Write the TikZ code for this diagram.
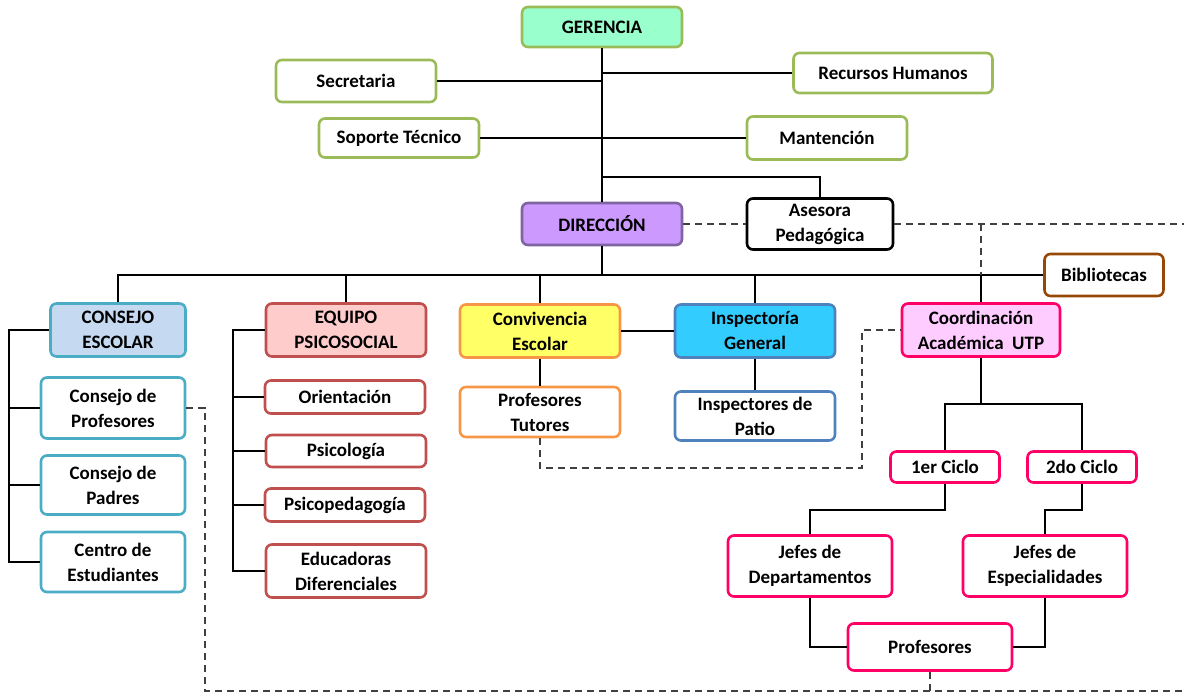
\documentclass[tikz,border=0pt]{standalone}
\usepackage{fontspec}
\setmainfont{Carlito}
\usetikzlibrary{positioning, calc}
\definecolor{gerfill}{RGB}{153,255,204}
\definecolor{olive}{RGB}{155,187,89}
\definecolor{dirfill}{RGB}{204,153,255}
\definecolor{dirline}{RGB}{128,100,162}
\definecolor{bibline}{RGB}{151,71,6}
\definecolor{cefill}{RGB}{197,217,241}
\definecolor{celine}{RGB}{75,172,198}
\definecolor{epfill}{RGB}{255,204,204}
\definecolor{epline}{RGB}{192,80,77}
\definecolor{convfill}{RGB}{255,255,102}
\definecolor{convline}{RGB}{247,150,70}
\definecolor{inspfill}{RGB}{51,204,255}
\definecolor{inspline}{RGB}{79,129,189}
\definecolor{utpfill}{RGB}{255,204,255}
\definecolor{utpline}{RGB}{255,0,102}

\begin{document}
\begin{tikzpicture}[
  x = 1pt, y = -1pt,
  box/.style = {draw, rounded corners=6pt, line width=2.6pt, align=center, inner sep=0pt,
                font=\bfseries\fontsize{19}{25}\selectfont},
  link/.style = {line width=1.5pt},
  dotlink/.style = {line width=1.5pt, draw=black!75, dash pattern=on 7pt off 5pt}
]
  \useasboundingbox (0,0) rectangle (1184,693);

  % top level
  \node[box, draw=olive, fill=gerfill, minimum width=160, minimum height=40] (ger) at (602,27) {GERENCIA};
  \node[box, draw=olive, minimum width=160, minimum height=42] (sec) at (356,81) {Secretaria};
  \node[box, draw=olive, minimum width=199, minimum height=40] (rrhh) at (893,73) {Recursos Humanos};
  \node[box, draw=olive, minimum width=160, minimum height=39] (sop) at (399,138) {Soporte Técnico};
  \node[box, draw=olive, minimum width=160, minimum height=43] (mant) at (827,138) {Mantención};
  \node[box, draw=black, minimum width=146, minimum height=51] (ase) at (820,224) {Asesora\\Pedagógica};
  \node[box, draw=dirline, fill=dirfill, minimum width=160, minimum height=42] (dir) at (602,224) {DIRECCIÓN};
  \node[box, draw=bibline, minimum width=119, minimum height=42] (bib) at (1104,275) {Bibliotecas};

  % consejo escolar
  \node[box, draw=celine, fill=cefill, minimum width=135, minimum height=53] (ce) at (118,330) {CONSEJO\\ESCOLAR};
  \node[box, draw=celine, minimum width=144, minimum height=61] (cprof) at (113,408) {Consejo de\\Profesores};
  \node[box, draw=celine, minimum width=144, minimum height=59] (cpad) at (113,485) {Consejo de\\Padres};
  \node[box, draw=celine, minimum width=144, minimum height=60] (cest) at (113,562) {Centro de\\Estudiantes};

  % equipo psicosocial
  \node[box, draw=epline, fill=epfill, minimum width=160, minimum height=53] (ep) at (346,330) {EQUIPO\\PSICOSOCIAL};
  \node[box, draw=epline, minimum width=160, minimum height=33] (ori) at (345,397) {Orientación};
  \node[box, draw=epline, minimum width=160, minimum height=32] (psi) at (346,451) {Psicología};
  \node[box, draw=epline, minimum width=160, minimum height=33] (psp) at (345,505) {Psicopedagogía};
  \node[box, draw=epline, minimum width=160, minimum height=53] (edu) at (346,571) {Educadoras\\Diferenciales};

  % convivencia e inspectoria
  \node[box, draw=convline, fill=convfill, minimum width=160, minimum height=53] (conv) at (540,331) {Convivencia\\Escolar};
  \node[box, draw=convline, minimum width=160, minimum height=50] (tut) at (540,412) {Profesores\\Tutores};
  \node[box, draw=inspline, fill=inspfill, minimum width=160, minimum height=53] (insp) at (755,331) {Inspectoría\\General};
  \node[box, draw=inspline, minimum width=160, minimum height=49] (pat) at (755,416) {Inspectores de\\Patio};

  % coordinacion academica
  \node[box, draw=utpline, fill=utpfill, minimum width=158, minimum height=53] (utp) at (981,330) {Coordinación\\Académica\ \ UTP};
  \node[box, draw=utpline, minimum width=109, minimum height=31] (cic1) at (945,467) {1er Ciclo};
  \node[box, draw=utpline, minimum width=109, minimum height=31] (cic2) at (1082,467) {2do Ciclo};
  \node[box, draw=utpline, minimum width=164, minimum height=61] (jdep) at (810,566) {Jefes de\\Departamentos};
  \node[box, draw=utpline, minimum width=164, minimum height=61] (jesp) at (1045,566) {Jefes de\\Especialidades};
  \node[box, draw=utpline, minimum width=164, minimum height=47] (prof) at (930,647) {Profesores};

  % helper points
  \coordinate (aseJ) at (602,177);
  \coordinate (ceBar) at (9,330);
  \coordinate (epBar) at (233,330);
  \coordinate (cicJ) at (981,404);
  \coordinate (tutC) at (862,468);
  \coordinate (botL) at (205,691);
  \coordinate (botR) at (1184,691);
  \coordinate (aseR) at (1184,224);

  % solid connectors
  \draw[link] (ger.south) -- (dir.north);
  \draw[link] (sec.east) -- (sec.east -| ger.south);
  \draw[link] (rrhh.west) -- (rrhh.west -| ger.south);
  \draw[link] (sop.east) -- (mant.west);
  \draw[link] (aseJ) -| (ase.north);
  \draw[link] (dir.south) -- (dir.south |- bib.west);
  \draw[link] (ce.north) |- (bib.west);
  \draw[link] (ep.north) -- (ep.north |- bib.west);
  \draw[link] (conv.north) -- (conv.north |- bib.west);
  \draw[link] (insp.north) -- (insp.north |- bib.west);
  \draw[link] (utp.north) -- (utp.north |- bib.west);
  \draw[link] (ce.west) -- (ceBar) |- (cest.west);
  \foreach \n in {cprof, cpad}
    \draw[link] (\n.west) -- (\n.west -| ceBar);
  \draw[link] (ep.west) -- (epBar) |- (edu.west);
  \foreach \n in {ori, psi, psp}
    \draw[link] (\n.west) -- (\n.west -| epBar);
  \draw[link] (conv.east) -- (insp.west);
  \draw[link] (conv.south) -- (tut.north);
  \draw[link] (insp.south) -- (pat.north);
  \draw[link] (utp.south) -- (cicJ);
  \draw[link] (cic1.north) |- (cicJ) -| (cic2.north);
  \draw[link] (cic1.south) -- ++(0,26) -| (jdep.north);
  \draw[link] (cic2.south) -- ++(0,26) -| (jesp.north);
  \draw[link] (jdep.south) |- (prof.west);
  \draw[link] (jesp.south) |- (prof.east);

  % dashed connectors
  \draw[dotlink] (dir.east) -- (ase.west);
  \draw[dotlink] (ase.east) -- (aseR);
  \draw[dotlink] (utp.north |- ase.east) -- (utp.north |- bib.west);
  \draw[dotlink] (tut.south) |- (tutC) |- (utp.west);
  \draw[dotlink] (cprof.east) -| (botL) -- (botR);
  \draw[dotlink] (prof.south) -- (prof.south |- botL);
\end{tikzpicture}
\end{document}
